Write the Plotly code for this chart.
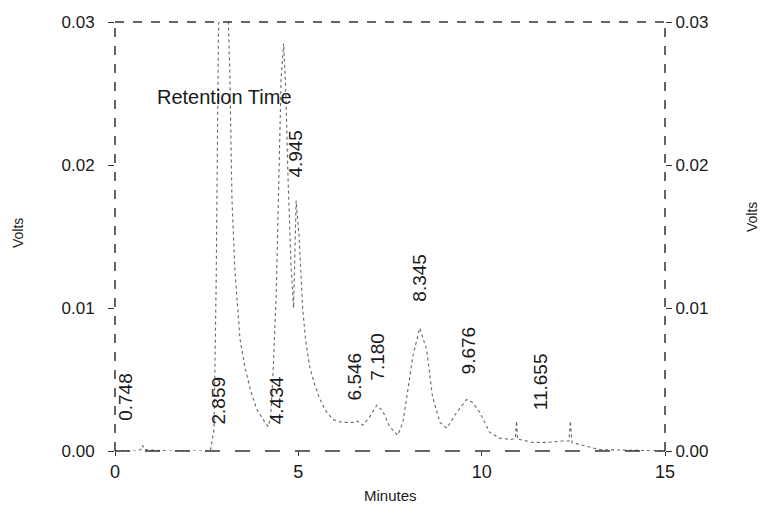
import plotly.graph_objects as go

# Chromatogram trace (minutes, volts)
time_min = [0.0, 0.6, 0.7, 0.75, 0.8, 1.5, 2.6, 2.70, 2.76, 2.82, 2.88, 2.98, 3.08, 3.13, 3.19, 3.27,
            3.41, 3.54, 3.70, 3.87, 4.09, 4.18, 4.25, 4.32, 4.40, 4.47, 4.53, 4.60, 4.66, 4.72,
            4.80, 4.87, 4.94, 5.02, 5.12, 5.21, 5.31, 5.45, 5.59, 5.75, 5.94, 6.19, 6.35, 6.49,
            6.60, 6.76, 6.95, 7.14, 7.30, 7.49, 7.71, 7.85, 7.96, 8.12, 8.31, 8.50, 8.66, 8.86,
            9.05, 9.32, 9.59, 9.75, 9.95, 10.22, 10.49, 10.80, 10.92, 10.95, 10.98, 11.04, 11.40,
            11.80, 12.20, 12.38, 12.42, 12.46, 12.60, 12.90, 13.2, 15.0]
volts = [0.0, 0.0, 0.0001, 0.0004, 0.0001, 0.0, 0.0, 0.0015, 0.0120, 0.0290, 0.0340, 0.0345, 0.0310,
         0.0266, 0.0176, 0.0126, 0.0078, 0.0059, 0.0042, 0.0029, 0.0020, 0.0017, 0.0025, 0.0060,
         0.0112, 0.0190, 0.0260, 0.0285, 0.0250, 0.0190, 0.0130, 0.0100, 0.0175, 0.0150, 0.0099,
         0.0075, 0.0059, 0.0046, 0.0036, 0.0028, 0.0022, 0.0020, 0.0020, 0.0020, 0.0021, 0.0018,
         0.0024, 0.0032, 0.0028, 0.0017, 0.0011, 0.0020, 0.0038, 0.0066, 0.0086, 0.0071, 0.0038,
         0.0020, 0.0016, 0.0027, 0.0036, 0.0034, 0.0027, 0.0013, 0.0009, 0.0008, 0.0009, 0.0021,
         0.0008, 0.0008, 0.0006, 0.0006, 0.0007, 0.0007, 0.0021, 0.0006, 0.0005, 0.0003, 0.0001, 0.0]

# Retention-time labels
peak_labels = ["0.748", "2.859", "4.434", "4.945", "6.546", "7.180", "8.345", "9.676", "11.655"]
peak_times = [0.748, 2.859, 4.434, 4.945, 6.546, 7.180, 8.345, 9.676, 11.655]
label_volts = [0.0020, 0.0017, 0.0017, 0.0190, 0.0034, 0.0048, 0.0103, 0.0052, 0.0027]

x_ticks = [0, 5, 10, 15]
y_ticks = [0.00, 0.01, 0.02, 0.03]
y_tick_text = ["0.00", "0.01", "0.02", "0.03"]

FONT = "Liberation Sans, Arial, sans-serif"
INK = "#1a1a1a"

# page has an 8px body margin: compensate so the plot lands where the reference has it
OFF = 8
W, H = 766 - OFF, 506 - OFF
L, R, T, B = 115 - OFF, 101, 22 - OFF, 55
pw, ph = W - L - R, H - T - B


def px_to_paper(px, py):
    return (px - OFF - L) / pw, 1 - (py - OFF - T) / ph


fig = go.Figure()
fig.add_trace(go.Scatter(x=time_min, y=volts, mode="lines",
                         line=dict(color="#666666", width=1.1, dash="dot"),
                         showlegend=False, hoverinfo="skip"))
fig.add_trace(go.Scatter(x=[0], y=[0], yaxis="y2", mode="markers",
                         marker=dict(opacity=0), showlegend=False, hoverinfo="skip"))

annotations = []
for i, (lab, t, v) in enumerate(zip(peak_labels, peak_times, label_volts)):
    annotations.append(dict(x=t, y=v, xref="x", yref="y", text=lab, showarrow=False,
                            textangle=-90, xanchor="center", yanchor="bottom",
                            xshift=-17 if i == 0 else -1,
                            font=dict(family=FONT, size=19, color=INK)))

def paper_note(text, px, py, size, angle=0, xanchor="center"):
    x, y = px_to_paper(px, py)
    return dict(x=x, y=y, xref="paper", yref="paper", text=text, showarrow=False,
                textangle=angle, xanchor=xanchor, yanchor="middle",
                font=dict(family=FONT, size=size, color=INK))

annotations.append(paper_note("Retention Time", 155, 97, 20, xanchor="left"))
annotations.append(paper_note("Volts", 18, 233, 14, angle=-90))
annotations.append(paper_note("Volts", 752, 217, 14, angle=-90))
annotations.append(paper_note("Minutes", 390, 495, 15))

shape_line = dict(color="#333333", width=1.5)
shapes = [
    dict(type="line", xref="x domain", yref="y domain", x0=0, x1=1, y0=1, y1=1,
         line=dict(**shape_line, dash="dash")),
    dict(type="line", xref="x domain", yref="y domain", x0=0, x1=0, y0=0, y1=1,
         line=dict(**shape_line, dash="dash")),
    dict(type="line", xref="x domain", yref="y domain", x0=1, x1=1, y0=0, y1=1,
         line=dict(**shape_line, dash="dash")),
    dict(type="line", xref="x domain", yref="y domain", x0=0, x1=1, y0=0, y1=0,
         line=dict(**shape_line, dash="longdash")),
]

fig.update_layout(
    width=W, height=H, margin=dict(l=L, r=R, t=T, b=B, autoexpand=False),
    paper_bgcolor="white", plot_bgcolor="white",
    font=dict(family=FONT, color=INK),
    xaxis=dict(range=[0, 15], tickvals=x_ticks, ticks="outside", ticklen=4, tickcolor="#333",
               showgrid=False, zeroline=False, showline=False,
               tickfont=dict(size=18, family=FONT, color=INK)),
    yaxis=dict(range=[0, 0.03], tickvals=y_ticks, ticktext=y_tick_text, ticks="outside",
               ticklen=6, tickcolor="#333", showgrid=False, zeroline=False, showline=False,
               tickfont=dict(size=17, family=FONT, color=INK), ticklabelstandoff=10),
    yaxis2=dict(range=[0, 0.03], tickvals=y_ticks, ticktext=y_tick_text, ticks="outside",
                ticklen=6, tickcolor="#333", overlaying="y", side="right", showgrid=False,
                zeroline=False, showline=False,
                tickfont=dict(size=17, family=FONT, color=INK)),
    annotations=annotations,
    shapes=shapes,
    showlegend=False,
)

fig.write_html("out.html")
